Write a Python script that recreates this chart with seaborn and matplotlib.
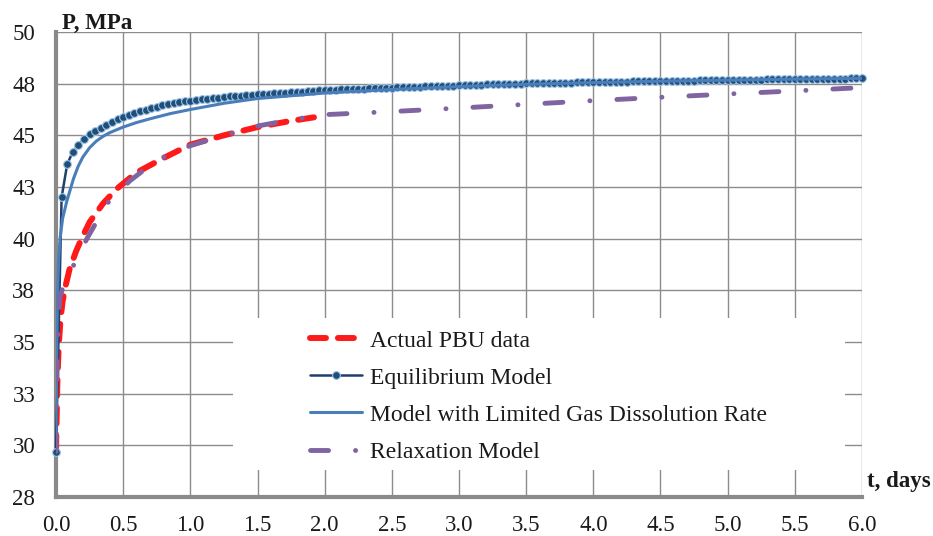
import numpy as np
import pandas as pd
import matplotlib
matplotlib.use("Agg")
import matplotlib.pyplot as plt
import seaborn as sns
from matplotlib.patches import Rectangle
from matplotlib.lines import Line2D

# Measured pressure build-up (days, MPa)
t_actual = [0.0, 0.01, 0.02, 0.035, 0.05, 0.067, 0.10, 0.15, 0.19, 0.25, 0.35,
            0.45, 0.60, 0.80, 1.00, 1.25, 1.50, 1.75, 2.00]
p_actual = [29.7, 33.0, 34.8, 36.2, 37.0, 37.6, 38.5, 39.4, 40.0, 40.8, 41.7,
            42.4, 43.2, 43.9, 44.55, 45.0, 45.4, 45.7, 45.95]

# Equilibrium model, hourly output over six days
p_equilibrium = [
    29.7, 42.0, 43.6, 44.2, 44.55, 44.83, 45.05, 45.22, 45.37, 45.51, 45.65, 45.78, 45.9,
    46.0, 46.09, 46.17, 46.25, 46.32, 46.39, 46.45, 46.51, 46.56, 46.60, 46.64, 46.67,
    46.71, 46.74, 46.77, 46.80, 46.83, 46.85, 46.88, 46.90, 46.92, 46.94, 46.96, 46.98,
    47.00, 47.02, 47.04, 47.06, 47.07, 47.09, 47.11, 47.12, 47.14, 47.15, 47.17, 47.18,
    47.19, 47.20, 47.22, 47.23, 47.24, 47.25, 47.26, 47.27, 47.28, 47.29, 47.30, 47.31,
    47.32, 47.33, 47.34, 47.35, 47.36, 47.37, 47.38, 47.38, 47.39, 47.40, 47.41, 47.42,
    47.43, 47.44, 47.44, 47.45, 47.46, 47.47, 47.47, 47.48, 47.49, 47.49, 47.50, 47.51,
    47.51, 47.52, 47.53, 47.53, 47.54, 47.54, 47.55, 47.55, 47.56, 47.56, 47.57, 47.57,
    47.58, 47.58, 47.59, 47.59, 47.60, 47.60, 47.61, 47.61, 47.62, 47.62, 47.62, 47.63,
    47.63, 47.64, 47.64, 47.65, 47.65, 47.65, 47.66, 47.66, 47.67, 47.67, 47.67, 47.68,
    47.68, 47.69, 47.69, 47.69, 47.70, 47.70, 47.71, 47.71, 47.71, 47.72, 47.72, 47.72,
    47.73, 47.73, 47.73, 47.74, 47.74, 47.74, 47.75, 47.75, 47.75, 47.76, 47.76, 47.76,
]
t_equilibrium = np.arange(len(p_equilibrium)) / 24.0

# Model with limited gas dissolution rate
t_limited = [0.0, 0.005, 0.01, 0.02, 0.03, 0.05, 0.08, 0.13, 0.165, 0.2, 0.25, 0.3,
             0.35, 0.4, 0.5, 0.6, 0.7, 0.85, 1.0, 1.25, 1.5, 2.0, 2.5, 3.0, 3.5, 4.0,
             4.5, 5.0, 5.5, 6.0]
p_limited = [29.7, 34.5, 37.0, 39.0, 40.0, 41.0, 41.8, 42.9, 43.5, 43.95, 44.4, 44.72,
             44.95, 45.13, 45.4, 45.62, 45.8, 46.05, 46.25, 46.55, 46.78, 47.05, 47.22,
             47.36, 47.47, 47.55, 47.62, 47.67, 47.72, 47.76]

# Relaxation model
t_relax = [0.0, 0.01, 0.02, 0.03, 0.06, 0.13, 0.23, 0.38, 0.55, 0.75, 1.0, 1.25, 1.5,
           1.75, 2.0, 2.5, 3.0, 3.5, 4.0, 4.5, 5.0, 5.5, 6.0]
p_relax = [29.7, 34.5, 36.3, 37.2, 37.8, 38.7, 40.0, 41.7, 42.8, 43.8, 44.5, 45.0, 45.45,
           45.75, 46.0, 46.15, 46.32, 46.5, 46.68, 46.84, 47.0, 47.15, 47.31]

x_ticks = [0.0, 0.5, 1.0, 1.5, 2.0, 2.5, 3.0, 3.5, 4.0, 4.5, 5.0, 5.5, 6.0]
y_ticks = [27.5, 30.0, 32.5, 35.0, 37.5, 40.0, 42.5, 45.0, 47.5, 50.0]
y_tick_labels = ["28", "30", "33", "35", "38", "40", "43", "45", "48", "50"]

series_names = ["Actual PBU data", "Equilibrium Model",
                "Model with Limited Gas Dissolution Rate", "Relaxation Model"]

sns.set_theme(style="white")
plt.rcParams["font.family"] = ["Liberation Serif", "DejaVu Serif"]
plt.rcParams["lines.scale_dashes"] = False

RED = "#ff1a1a"
NAVY = "#1f3f6e"
BLUE = "#4a7ebb"
PURPLE = "#8064a2"
GRID = "#8c8c8c"
TEXT = "#1a1a1a"

red_style = dict(color=RED, linewidth=4.3, linestyle=(0, (11.5, 8.6)),
                 dash_capstyle="round")
eq_style = dict(color=NAVY, linewidth=1.8, marker="o", markersize=5.6,
                markerfacecolor="#1f4e79", markeredgecolor="#9dc3e6",
                markeredgewidth=0.8)
lim_style = dict(color=BLUE, linewidth=2.2)
rel_style = dict(color=PURPLE, linewidth=3.5, linestyle=(0, (13, 19.4, 0.1, 19.4)),
                 dash_capstyle="round")

fig = plt.figure(figsize=(9.33, 5.36), dpi=100)
ax = fig.add_axes([56 / 933, 1 - 497 / 536, 806 / 933, 465 / 536])

df_act = pd.DataFrame({"t": t_actual, "p": p_actual})
df_eq = pd.DataFrame({"t": t_equilibrium, "p": p_equilibrium})
df_lim = pd.DataFrame({"t": t_limited, "p": p_limited})
df_rel = pd.DataFrame({"t": t_relax, "p": p_relax})

sns.lineplot(data=df_act, x="t", y="p", ax=ax, zorder=3, **red_style)
sns.lineplot(data=df_eq, x="t", y="p", ax=ax, clip_on=False, zorder=4, **eq_style)
sns.lineplot(data=df_lim, x="t", y="p", ax=ax, zorder=5, **lim_style)
sns.lineplot(data=df_rel, x="t", y="p", ax=ax, zorder=6, **rel_style)

ax.set_xlim(0, 6)
ax.set_ylim(27.5, 50)
ax.set_xticks(x_ticks)
ax.set_xticklabels([f"{v:.1f}" for v in x_ticks])
ax.set_yticks(y_ticks)
ax.set_yticklabels(y_tick_labels)
ax.set_xlabel("")
ax.set_ylabel("")

ax.grid(True, color=GRID, linewidth=1.0)
ax.set_axisbelow(True)
for side in ("top", "right"):
    ax.spines[side].set_visible(False)
for side in ("left", "bottom"):
    ax.spines[side].set_color("#8a8a8a")
    ax.spines[side].set_linewidth(3)
ax.tick_params(axis="both", direction="out", length=4, width=2.2, color="#8a8a8a",
               labelsize=16.5, labelcolor=TEXT)
ax.tick_params(axis="x", pad=9)
ax.tick_params(axis="y", pad=11)

# white panel behind the legend
ax.add_patch(Rectangle((0.2196, 0.058), 0.759, 0.327, transform=ax.transAxes,
                       facecolor="white", edgecolor="none", zorder=1.5))

handles = [Line2D([], [], **red_style), Line2D([], [], **eq_style),
           Line2D([], [], **lim_style), Line2D([], [], **rel_style)]
leg = ax.legend(handles, series_names, loc="upper left",
                bbox_to_anchor=((310 - 56) / 806, (497 - 330) / 465),
                frameon=False, fontsize=17, handlelength=2.2, handletextpad=0.35,
                labelspacing=0.66, borderpad=0, borderaxespad=0)
for txt in leg.get_texts():
    txt.set_color(TEXT)

ax.text(0.008, (497 - 29) / 465, "P, MPa", transform=ax.transAxes, ha="left",
        va="baseline", fontsize=16.5, fontweight="bold", color=TEXT)
ax.text(1.006, 0.0215, "t, days", transform=ax.transAxes, ha="left", va="baseline",
        fontsize=16.5, fontweight="bold", color=TEXT, clip_on=False)

fig.savefig("out.png", dpi=100)
